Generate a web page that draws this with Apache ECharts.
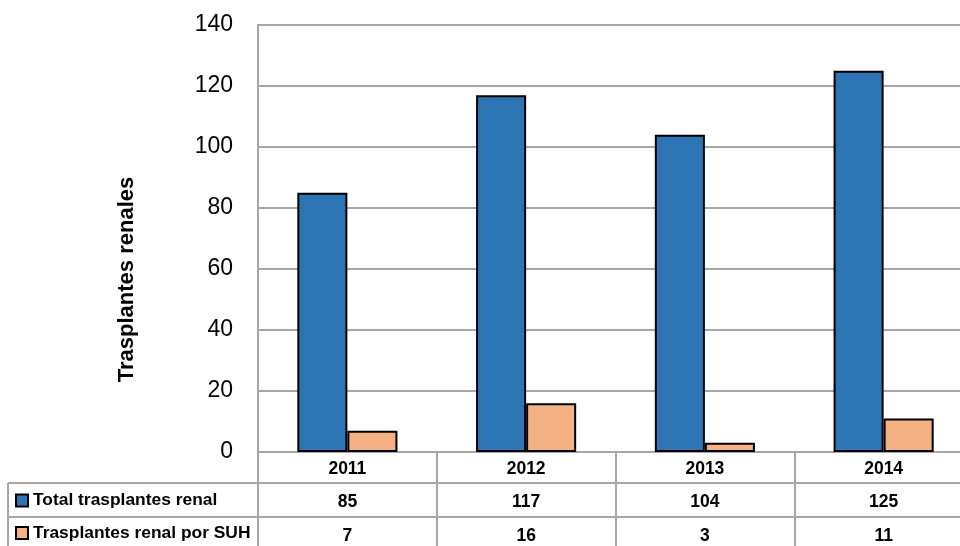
<!DOCTYPE html>
<html>
<head>
<meta charset="utf-8">
<script src="https://cdn.jsdelivr.net/npm/echarts@6/dist/echarts.min.js"></script>
<style>html,body{margin:0;padding:0;background:#fff;overflow:hidden;width:960px;height:546px;}#c{width:975px;height:546px;}</style>
</head>
<body>
<div id="c"></div>
<script>
var years = ['2011', '2012', '2013', '2014'];
var totalRenal = [85, 117, 104, 125];
var suhRenal = [7, 16, 3, 11];
var seriesNames = ['Total trasplantes renal', 'Trasplantes renal por SUH'];
var yTicks = [0, 20, 40, 60, 80, 100, 120, 140];

var chart = echarts.init(document.getElementById('c'), null, {renderer: 'canvas'});
var FONT = '"Liberation Sans", Arial, sans-serif';
var GRID = '#a6a6a6';

chart.setOption({
  animation: false,
  textStyle: {fontFamily: FONT},
  grid: {left: 258, top: 25, right: 2, bottom: 94, containLabel: false},
  legend: {
    orient: 'vertical', left: 15, top: 492, padding: 0,
    itemWidth: 12, itemHeight: 12, itemGap: 15.5,
    icon: 'rect',
    textStyle: {fontFamily: FONT, fontSize: 17.4, fontWeight: 'bold', color: '#000', padding: [0, 0, 0, 0]},
    data: seriesNames
  },
  xAxis: {
    type: 'category',
    data: years,
    axisLine: {show: true, lineStyle: {color: GRID, width: 2}},
    axisTick: {show: true, alignWithLabel: false, length: 100, inside: false, lineStyle: {color: GRID, width: 2}},
    splitLine: {show: false},
    axisLabel: {
      margin: 0,
      interval: 0,
      formatter: function (v, i) {
        return '{a|' + v + '}\n{a|' + totalRenal[i] + '}\n{a|' + suhRenal[i] + '}';
      },
      rich: {
        a: {fontFamily: FONT, fontSize: 17.5, fontWeight: 'bold', color: '#000', lineHeight: 33.5, align: 'center'}
      }
    }
  },
  yAxis: {
    type: 'value',
    min: yTicks[0], max: yTicks[yTicks.length - 1], interval: 20,
    name: 'Trasplantes renales',
    nameLocation: 'middle',
    nameGap: 120,
    nameTextStyle: {fontFamily: FONT, fontSize: 22, fontWeight: 'bold', color: '#000', padding: [0, 82, 0, 0]},
    axisLine: {show: true, lineStyle: {color: GRID, width: 2}},
    axisTick: {show: false},
    axisLabel: {fontFamily: FONT, fontSize: 23, color: '#000', margin: 25},
    splitLine: {show: true, lineStyle: {color: GRID, width: 2}}
  },
  series: [
    {
      name: seriesNames[0], type: 'bar', data: totalRenal,
      barGap: '0%', barCategoryGap: '44%',
      itemStyle: {color: '#2E75B6', borderColor: '#000', borderWidth: 2}
    },
    {
      name: seriesNames[1], type: 'bar', data: suhRenal,
      barGap: '0%', barCategoryGap: '44%',
      itemStyle: {color: '#F4B183', borderColor: '#000', borderWidth: 2}
    }
  ],
  graphic: [
    {type: 'line', shape: {x1: 8, y1: 483, x2: 975, y2: 483}, style: {stroke: GRID, lineWidth: 2}},
    {type: 'line', shape: {x1: 8, y1: 517, x2: 975, y2: 517}, style: {stroke: GRID, lineWidth: 2}},
    {type: 'line', shape: {x1: 8, y1: 483, x2: 8, y2: 560}, style: {stroke: GRID, lineWidth: 2}}
  ]
});
</script>
</body>
</html>
